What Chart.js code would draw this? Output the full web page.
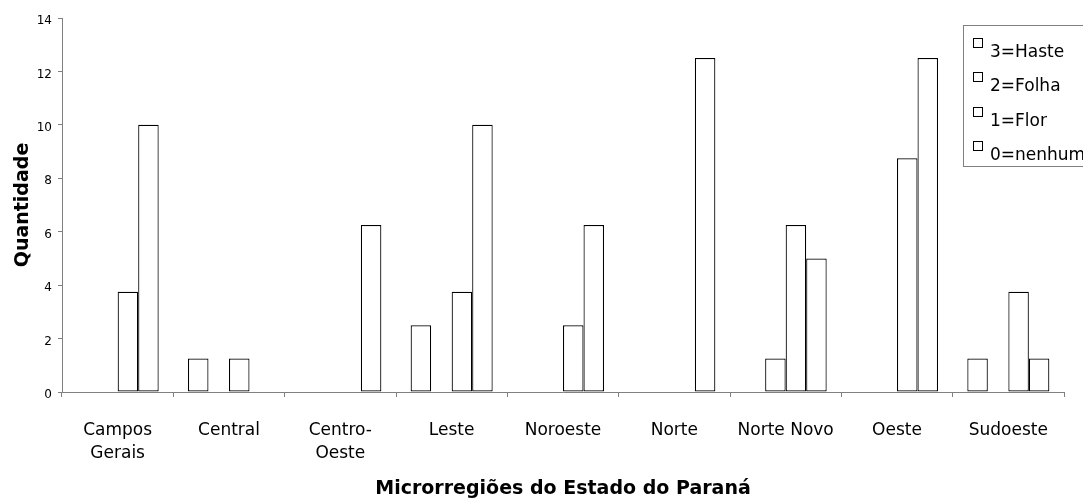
<!DOCTYPE html>
<html>
<head>
<meta charset="utf-8">
<script src="https://cdn.jsdelivr.net/npm/chart.js@4.4.1/dist/chart.umd.min.js"></script>
<style>
  html, body { margin: 0; padding: 0; background: #fff; overflow: hidden; }
  #wrap { width: 1083px; height: 499px; }
</style>
</head>
<body>
<div id="wrap"><canvas id="chart" width="1083" height="499"></canvas></div>
<script>
// Categories (microregions) and series values
const regions = [['Campos', 'Gerais'], 'Central', ['Centro-', 'Oeste'], 'Leste', 'Noroeste', 'Norte', 'Norte Novo', 'Oeste', 'Sudoeste'];
const seriesNames = ['3=Haste', '2=Folha', '1=Flor', '0=nenhum'];
const haste   = [0, 1.25, 0, 2.5, 0, 0, 0, 0, 1.25];
const folha   = [0, 0, 0, 0, 0, 0, 1.25, 0, 0];
const flor    = [3.75, 1.25, 0, 3.75, 2.5, 0, 6.25, 8.75, 3.75];
const nenhum  = [10, 0, 6.25, 10, 6.25, 12.5, 5, 12.5, 1.25];
const yTicks  = [0, 2, 4, 6, 8, 10, 12, 14];

const FONT = "'DejaVu Sans', 'Liberation Sans', sans-serif";
const AXIS_GREY = '#808080';

// Legend box sitting over the top-right of the plot, cut by the page edge
const boxLegend = {
    id: 'boxLegend',
    afterDraw(chart) {
        const ctx = chart.ctx;
        ctx.save();
        ctx.fillStyle = '#fff';
        ctx.fillRect(963.5, 25.5, 140, 141);
        ctx.strokeStyle = AXIS_GREY;
        ctx.lineWidth = 1;
        ctx.strokeRect(963.5, 25.5, 140, 141);
        ctx.font = '17px ' + FONT;
        ctx.textBaseline = 'alphabetic';
        ctx.fillStyle = '#000';
        chart.data.datasets.forEach((ds, i) => {
            const base = 57 + i * 34.4;
            ctx.strokeStyle = '#000';
            ctx.strokeRect(973.5, Math.round(base - 19) + 0.5, 9, 9);
            ctx.fillText(ds.label, 990, base);
        });
        ctx.restore();
    }
};

const makeSet = (label, data) => ({
    label: label,
    data: data,
    backgroundColor: '#fff',
    borderColor: '#000',
    borderWidth: 1.2,
    borderSkipped: false
});

new Chart(document.getElementById('chart').getContext('2d'), {
    type: 'bar',
    data: {
        labels: regions,
        datasets: [
            makeSet(seriesNames[0], haste),
            makeSet(seriesNames[1], folha),
            makeSet(seriesNames[2], flor),
            makeSet(seriesNames[3], nenhum)
        ]
    },
    options: {
        responsive: false,
        animation: false,
        categoryPercentage: 0.737,
        barPercentage: 1.0,
        layout: { padding: { top: 18, right: 19, bottom: 0, left: 0 } },
        plugins: {
            legend: { display: false },
            tooltip: { enabled: false }
        },
        scales: {
            x: {
                afterFit: s => { s.height = 107; },
                grid: { display: true, drawOnChartArea: false, drawTicks: true, tickLength: 5, color: AXIS_GREY, offset: true },
                border: { display: true, color: AXIS_GREY, width: 1 },
                ticks: {
                    color: '#000',
                    padding: 22,
                    maxRotation: 0,
                    autoSkip: false,
                    font: { family: FONT, size: 17, lineHeight: 1.35 }
                },
                title: {
                    display: true,
                    text: 'Microrregiões do Estado do Paraná',
                    color: '#000',
                    padding: { top: 0, bottom: 0 },
                    font: { family: FONT, size: 19, weight: 'bold', lineHeight: 1.0 }
                }
            },
            y: {
                min: yTicks[0],
                max: yTicks[yTicks.length - 1],
                afterFit: s => { s.width = 62; },
                afterBuildTicks: s => { s.ticks = yTicks.map(v => ({ value: v })); },
                grid: { display: true, drawOnChartArea: false, drawTicks: true, tickLength: 4, color: AXIS_GREY },
                border: { display: true, color: AXIS_GREY, width: 1 },
                ticks: {
                    color: '#000',
                    padding: 6,
                    labelOffset: 3,
                    font: { family: FONT, size: 12 }
                },
                title: {
                    display: true,
                    text: 'Quantidade',
                    color: '#000',
                    padding: { top: 12, bottom: 0 },
                    font: { family: FONT, size: 19, weight: 'bold', lineHeight: 1.2 }
                }
            }
        }
    },
    plugins: [boxLegend]
});
</script>
</body>
</html>
